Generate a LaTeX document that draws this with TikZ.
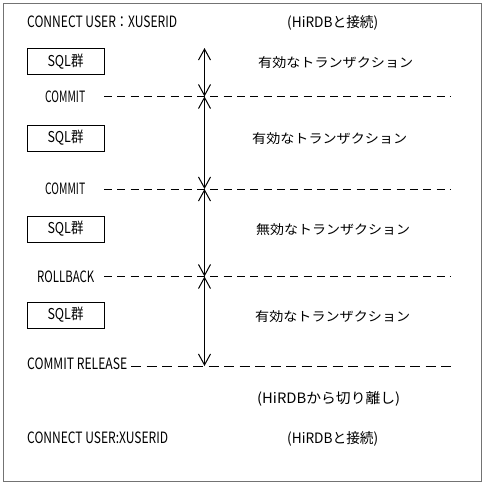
\documentclass[tikz,border=0pt]{standalone}
\usepackage{graphicx}
\usepackage{fontspec}
\setmainfont{Noto Sans CJK JP}
\usetikzlibrary{arrows.meta}
\newcommand\fitx[3][1]{\setbox0\hbox{#3}\scalebox{\fpeval{#2/(\the\wd0)}}[#1]{\box0}}
\begin{document}
\begin{tikzpicture}[x=1pt,y=-1pt,
  lbl/.style={anchor=base west, inner sep=0pt, font=\fontsize{13}{13}\selectfont},
  sqlbox/.style={draw, line width=1pt, minimum width=77pt, minimum height=26pt, inner sep=0pt, font=\fontsize{13}{13}\selectfont},
  dline/.style={line width=1pt, dash pattern=on 8pt off 5.3pt},
  rline/.style={line width=1pt, dash pattern=on 10pt off 5.5pt},
  span/.style={line width=1pt, {Straight Barb[length=11pt,width=12pt]}-{Straight Barb[length=11pt,width=12pt]}}]
\useasboundingbox (0,0) rectangle (485,485);
\draw[draw=black!55, line width=1.5pt] (3.5,3.5) rectangle (481.5,481.5);

% top
\node[lbl] (c1) at (27,27.5) {\fitx[1.2]{150}{CONNECT USER：XUSERID}};
\node[lbl] (h1) at (287,27.5) {\fitx[1.1]{91}{(HiRDBと接続)}};

% SQL boxes
\node[sqlbox] (s1) at (65.5,61.5) {\fitx[1.15]{36}{SQL群}};
\node[sqlbox] (s2) at (65.5,138) {\fitx[1.15]{36}{SQL群}};
\node[sqlbox] (s3) at (65.5,229) {\fitx[1.15]{36}{SQL群}};
\node[sqlbox] (s4) at (65.5,315) {\fitx[1.15]{36}{SQL群}};

% right texts
\node[lbl] (t1) at (258,67) {\fitx{155}{有効なトランザクション}};
\node[lbl] (t2) at (252,143) {\fitx{155}{有効なトランザクション}};
\node[lbl] (t3) at (256,234) {\fitx{154}{無効なトランザクション}};
\node[lbl] (t4) at (255,321) {\fitx{155}{有効なトランザクション}};

% statement labels
\node[lbl] (m1) at (45,102) {\fitx[1.2]{40}{COMMIT}};
\node[lbl] (m2) at (45,194.5) {\fitx[1.2]{40}{COMMIT}};
\node[lbl] (r1) at (37,282) {\fitx[1.2]{57}{ROLLBACK}};
\node[lbl] (m3) at (27,369) {\fitx[1.2]{100}{COMMIT RELEASE}};

% bottom
\node[lbl] (h2) at (257,403.5) {\fitx[1.1]{143}{(HiRDBから切り離し)}};
\node[lbl] (c2) at (27,443.5) {\fitx[1.2]{141}{CONNECT USER:XUSERID}};
\node[lbl] (h3) at (287,443.5) {\fitx[1.1]{91}{(HiRDBと接続)}};

% dashed lines
\coordinate (d1l) at (104,96.5);  \coordinate (d1r) at (451,96.5);
\coordinate (d2l) at (104,189);   \coordinate (d2r) at (451,189);
\coordinate (d3l) at (104,276.5); \coordinate (d3r) at (451,276.5);
\coordinate (d4l) at (131,366);   \coordinate (d4r) at (451,366);
\draw[dline] (d1l) -- (d1r);
\draw[dline] (d2l) -- (d2r);
\draw[dline] (d3l) -- (d3r);
\draw[rline] (d4l) -- (d4r);

% vertical arrows
\coordinate (v0) at (204.5,48);
\coordinate (v1) at (204.5,96.5);
\coordinate (v2) at (204.5,189);
\coordinate (v3) at (204.5,276.5);
\coordinate (v4) at (204.5,366);
\draw[span] (v0) -- (v1);
\draw[span] (v1) -- (v2);
\draw[span] (v2) -- (v3);
\draw[span] (v3) -- (v4);
\end{tikzpicture}
\end{document}
